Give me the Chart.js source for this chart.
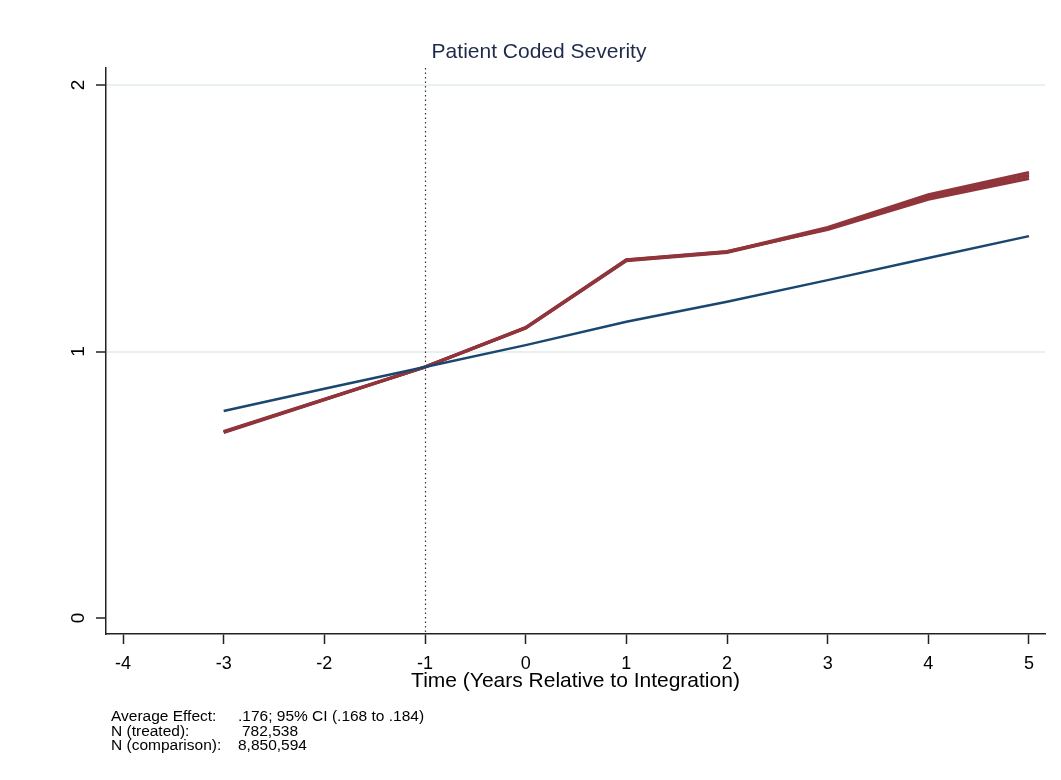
<!DOCTYPE html>
<html lang="en">
<head>
  <meta charset="UTF-8">
  <title>Patient Coded Severity</title>
  <script src="https://cdn.jsdelivr.net/npm/chart.js"></script>
  <style>
    html, body { margin: 0; padding: 0; background: #fff; }
    #wrap { width: 1061px; height: 780px; }
  </style>
</head>
<body>
<div id="wrap"><canvas id="severityChart" width="1061" height="780"></canvas></div>
<script>
  // years relative to integration
  var years = [-3, -2, -1, 0, 1, 2, 3, 4, 5];
  // treated group (several overlapping estimates)
  var treatedA = [0.698, 0.820, 0.942, 1.089, 1.343, 1.374, 1.465, 1.588, 1.672];
  var treatedB = [0.696, 0.819, 0.942, 1.088, 1.341, 1.372, 1.461, 1.580, 1.661];
  var treatedC = [0.700, 0.821, 0.942, 1.090, 1.344, 1.375, 1.458, 1.572, 1.650];
  // comparison group
  var comparison = [0.777, 0.860, 0.942, 1.024, 1.112, 1.187, 1.268, 1.351, 1.433];

  var xTicks = [-4, -3, -2, -1, 0, 1, 2, 3, 4, 5];
  var yTicks = [0, 1, 2];
  var eventYear = -1;

  var noteLabels = ['Average Effect:', 'N (treated):', 'N (comparison):'];
  var noteValues = ['.176; 95% CI (.168 to .184)', '782,538', '8,850,594'];

  var FONT = '"Liberation Sans", Arial, sans-serif';

  function toPoints(arr) {
    return years.map(function (yr, i) { return { x: yr, y: arr[i] }; });
  }

  function line(label, arr, color, width) {
    return {
      label: label,
      data: toPoints(arr),
      borderColor: color,
      backgroundColor: color,
      borderWidth: width,
      pointRadius: 0,
      tension: 0,
      fill: false
    };
  }

  // dotted vertical line at the integration reference year
  var refLine = {
    id: 'refLine',
    beforeDatasetsDraw: function (chart) {
      var ctx = chart.ctx, a = chart.chartArea;
      var x = Math.round(chart.scales.x.getPixelForValue(eventYear)) + 0.5;
      ctx.save();
      ctx.strokeStyle = '#333';
      ctx.lineWidth = 1.2;
      ctx.setLineDash([1.5, 3]);
      ctx.beginPath();
      ctx.moveTo(x, a.top);
      ctx.lineTo(x, a.bottom);
      ctx.stroke();
      ctx.restore();
    }
  };

  // note below the graph
  var notes = {
    id: 'notes',
    afterDraw: function (chart) {
      var ctx = chart.ctx;
      var valueX = [238, 242, 238];
      ctx.save();
      ctx.fillStyle = '#000';
      ctx.font = '15.5px ' + FONT;
      ctx.textBaseline = 'middle';
      for (var i = 0; i < noteLabels.length; i++) {
        var y = 717 + i * 14.5;
        ctx.fillText(noteLabels[i], 111, y);
        ctx.fillText(noteValues[i], valueX[i], y);
      }
      ctx.restore();
    }
  };

  var ctx = document.getElementById('severityChart').getContext('2d');
  var chart = new Chart(ctx, {
    type: 'line',
    data: {
      datasets: [
        line('Comparison', comparison, '#1a476f', 2.5),
        line('Treated', treatedA, '#90353b', 3.2),
        line('Treated', treatedB, '#90353b', 3.2),
        line('Treated', treatedC, '#90353b', 3.2)
      ]
    },
    options: {
      responsive: false,
      animation: false,
      layout: { padding: { top: 29, left: 33, right: 16, bottom: 86 } },
      plugins: {
        legend: { display: false },
        tooltip: { enabled: false },
        title: {
          display: true,
          text: 'Patient Coded Severity',
          color: '#1e2a4a',
          font: { family: FONT, size: 21, weight: 'normal', lineHeight: 1.2 },
          padding: { top: 10.4, bottom: 3.4 }
        }
      },
      scales: {
        x: {
          type: 'linear',
          min: -4.169,
          max: 5.159,
          afterBuildTicks: function (scale) {
            scale.ticks = xTicks.map(function (v) { return { value: v }; });
          },
          afterFit: function (scale) { scale.height = 60; },
          ticks: {
            color: '#000',
            padding: 9,
            maxRotation: 0,
            font: { family: FONT, size: 18 },
            callback: function (v) { return String(v); }
          },
          grid: {
            drawOnChartArea: false,
            drawTicks: true,
            tickLength: 10,
            tickColor: '#222',
            tickWidth: 1.5
          },
          border: { display: true, color: '#222', width: 1.5 },
          title: {
            display: true,
            text: 'Time (Years Relative to Integration)',
            color: '#000',
            font: { family: FONT, size: 21, lineHeight: 1.2 },
            padding: { top: 0, bottom: 0 }
          }
        },
        y: {
          type: 'linear',
          min: -0.06,
          max: 2.064,
          afterBuildTicks: function (scale) {
            scale.ticks = yTicks.map(function (v) { return { value: v }; });
          },
          afterFit: function (scale) { scale.width = 73; },
          ticks: {
            color: '#000',
            padding: 12,
            minRotation: 90,
            maxRotation: 90,
            crossAlign: 'center',
            font: { family: FONT, size: 19 },
            callback: function (v) { return String(v); }
          },
          grid: {
            drawTicks: true,
            tickLength: 10,
            tickColor: '#222',
            tickWidth: 1.5,
            lineWidth: 2,
            color: function (c) {
              return c.tick && c.tick.value === 0 ? 'rgba(0,0,0,0)' : '#e8f0f2';
            }
          },
          border: { display: true, color: '#222', width: 1.5 }
        }
      }
    },
    plugins: [refLine, notes]
  });
</script>
</body>
</html>
